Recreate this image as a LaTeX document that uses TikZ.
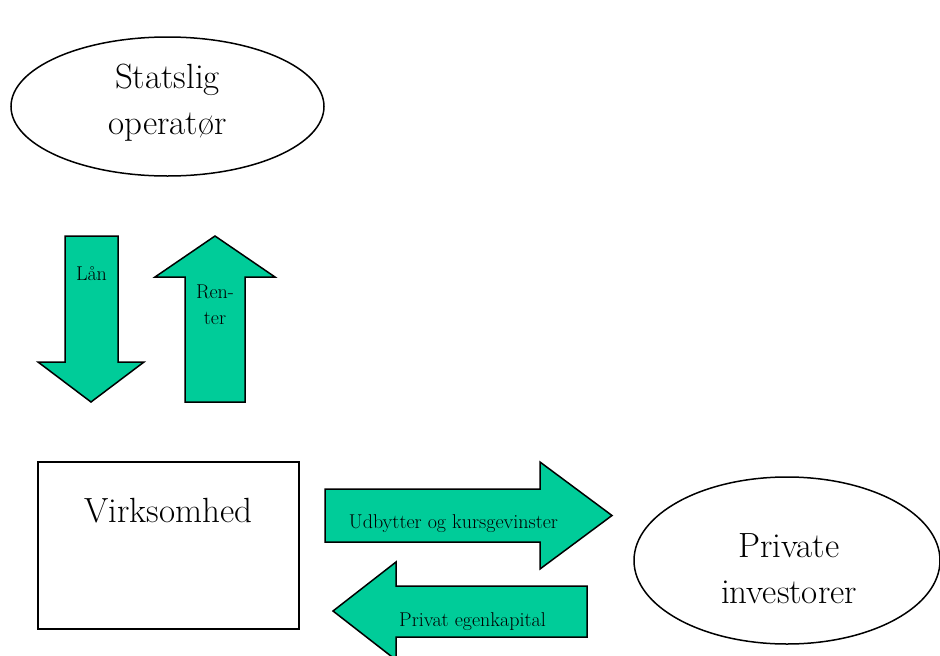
\documentclass[tikz,border=0pt]{standalone}
\usepackage{tikz}
\usetikzlibrary{shapes.geometric}
\definecolor{flowgreen}{RGB}{0,204,153}

\begin{document}
\begin{tikzpicture}[x=1pt,y=-1pt,line width=1.5pt,
  bigtext/.style={font=\fontsize{35}{46}\selectfont,align=center},
  smalltext/.style={font=\fontsize{20}{26}\selectfont,align=center},
  party/.style={draw,ellipse,inner sep=0pt},
  flow/.style={draw,fill=flowgreen,line join=miter}]
  \useasboundingbox (0,0) rectangle (940,656);
  % parties
  \node[party,minimum width=313pt,minimum height=139pt] (stat) at (167.5,106.5) {};
  \node[bigtext] (stattxt) at (167.5,102.5) {Statslig\\operatør};
  \node[party,minimum width=306pt,minimum height=167pt] (priv) at (787,560.5) {};
  \node[bigtext] (privtxt) at (789,568.5) {Private\\investorer};
  \node[draw,minimum width=261pt,minimum height=167pt] (virk) at (168.5,545.5) {};
  \node[bigtext,anchor=base] (virktxt) at (168.5,522) {Virksomhed};
  % flows
  \draw[flow] (65,236) -- (118,236) -- (118,362) -- (144,362) -- (91,402)
    -- (38,362) -- (65,362) -- cycle;
  \node[smalltext,anchor=base] (laan) at (91.5,280) {Lån};
  \draw[flow] (185,402) -- (185,277) -- (155,277) -- (215,236) -- (275,277)
    -- (245,277) -- (245,402) -- cycle;
  \node[smalltext] (renter) at (215,305) {Ren-\\ter};
  \draw[flow] (325,489) -- (540,489) -- (540,462) -- (612,515.5) -- (540,569)
    -- (540,542) -- (325,542) -- cycle;
  \node[smalltext,anchor=base] (udb) at (453.5,528) {Udbytter og kursgevinster};
  \draw[flow] (587,586) -- (396,586) -- (396,562) -- (333,611) -- (396,660)
    -- (396,637) -- (587,637) -- cycle;
  \node[smalltext,anchor=base] (egen) at (472.5,626) {Privat egenkapital};
\end{tikzpicture}
\end{document}
